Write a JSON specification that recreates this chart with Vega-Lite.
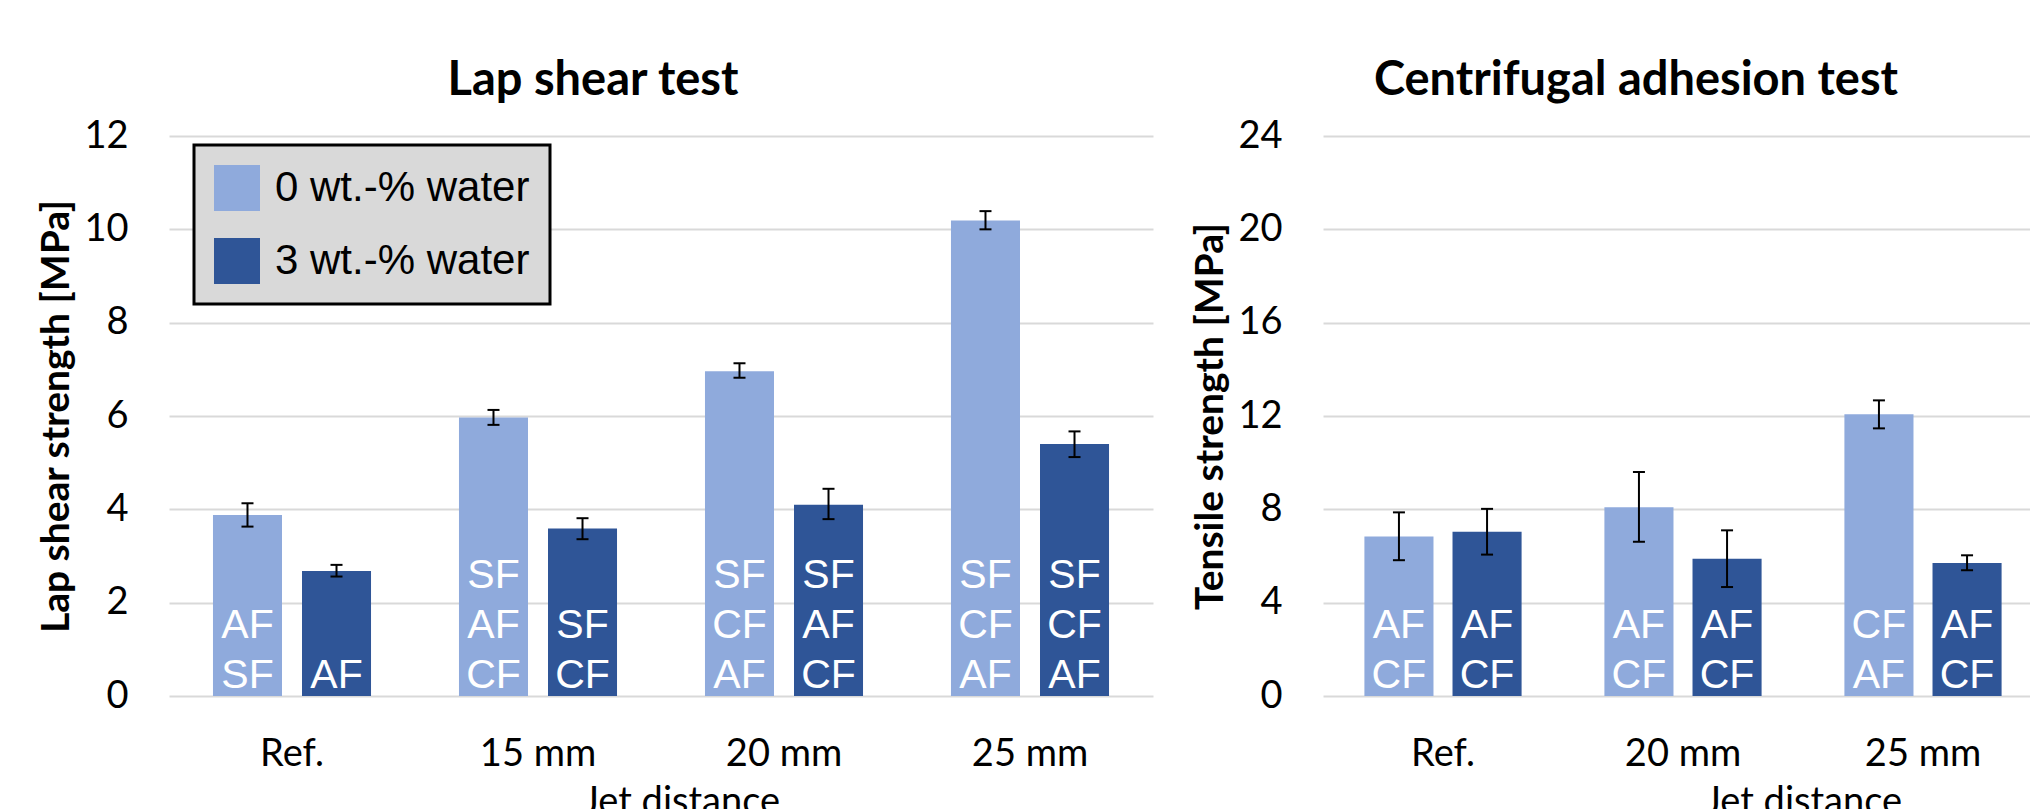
{
  "$schema": "https://vega.github.io/schema/vega-lite/v6.json",
  "background": "white",
  "padding": {"left": 37, "top": 57, "right": -251, "bottom": -12},
  "spacing": 38,
  "datasets": {
    "lap": [
      {"dist": "Ref.", "water": "0 wt.-% water", "value": 3.88, "lo": 3.63, "hi": 4.13, "b1": "SF", "b2": "AF", "b3": ""},
      {"dist": "Ref.", "water": "3 wt.-% water", "value": 2.68, "lo": 2.56, "hi": 2.81, "b1": "AF", "b2": "", "b3": ""},
      {"dist": "15 mm", "water": "0 wt.-% water", "value": 5.97, "lo": 5.81, "hi": 6.13, "b1": "CF", "b2": "AF", "b3": "SF"},
      {"dist": "15 mm", "water": "3 wt.-% water", "value": 3.59, "lo": 3.36, "hi": 3.81, "b1": "CF", "b2": "SF", "b3": ""},
      {"dist": "20 mm", "water": "0 wt.-% water", "value": 6.96, "lo": 6.82, "hi": 7.13, "b1": "AF", "b2": "CF", "b3": "SF"},
      {"dist": "20 mm", "water": "3 wt.-% water", "value": 4.1, "lo": 3.79, "hi": 4.44, "b1": "CF", "b2": "AF", "b3": "SF"},
      {"dist": "25 mm", "water": "0 wt.-% water", "value": 10.19, "lo": 10.0, "hi": 10.39, "b1": "AF", "b2": "CF", "b3": "SF"},
      {"dist": "25 mm", "water": "3 wt.-% water", "value": 5.4, "lo": 5.12, "hi": 5.67, "b1": "AF", "b2": "CF", "b3": "SF"}
    ],
    "cent": [
      {"dist": "Ref.", "water": "0 wt.-% water", "value": 6.84, "lo": 5.82, "hi": 7.87, "b1": "CF", "b2": "AF", "b3": ""},
      {"dist": "Ref.", "water": "3 wt.-% water", "value": 7.04, "lo": 6.06, "hi": 8.02, "b1": "CF", "b2": "AF", "b3": ""},
      {"dist": "20 mm", "water": "0 wt.-% water", "value": 8.09, "lo": 6.61, "hi": 9.6, "b1": "CF", "b2": "AF", "b3": ""},
      {"dist": "20 mm", "water": "3 wt.-% water", "value": 5.88, "lo": 4.67, "hi": 7.1, "b1": "CF", "b2": "AF", "b3": ""},
      {"dist": "25 mm", "water": "0 wt.-% water", "value": 12.07, "lo": 11.47, "hi": 12.67, "b1": "AF", "b2": "CF", "b3": ""},
      {"dist": "25 mm", "water": "3 wt.-% water", "value": 5.7, "lo": 5.39, "hi": 6.03, "b1": "CF", "b2": "AF", "b3": ""}
    ]
  },
  "hconcat": [
    {
      "width": 984,
      "height": 560,
      "title": {"text": "Lap shear test", "anchor": "middle", "frame": "group", "dx": -68, "offset": -25, "baseline": "alphabetic"},
      "data": {"name": "lap"},
      "encoding": {
        "x": {"field": "dist", "type": "nominal", "sort": ["Ref.", "15 mm", "20 mm", "25 mm"], "scale": {"paddingInner": 0, "paddingOuter": 0}, "title": "Jet distance", "axis": {"titleX": 512}},
        "xOffset": {"field": "water", "type": "nominal", "sort": ["0 wt.-% water", "3 wt.-% water"], "scale": {"paddingInner": 0.2247, "paddingOuter": 0.494}}
      },
      "layer": [
        {
          "mark": {"type": "bar"},
          "encoding": {
            "y": {"field": "value", "type": "quantitative", "title": "Lap shear strength [MPa]", "scale": {"domain": [0, 12], "nice": false}, "axis": {"values": [0, 2, 4, 6, 8, 10, 12]}},
            "color": {
              "field": "water", "type": "nominal", "sort": ["0 wt.-% water", "3 wt.-% water"],
              "scale": {"range": ["#8FAADC", "#2F5597"]},
              "legend": {"title": null, "orient": "none", "legendX": 25, "legendY": 9, "direction": "vertical"}
            }
          }
        },
        {
          "mark": {"type": "text", "color": "white", "font": "Liberation Sans", "fontSize": 41, "baseline": "alphabetic", "align": "center", "dy": -8},
          "encoding": {"y": {"datum": 0, "type": "quantitative", "title": "Lap shear strength [MPa]"}, "text": {"field": "b1", "type": "nominal"}}
        },
        {
          "mark": {"type": "text", "color": "white", "font": "Liberation Sans", "fontSize": 41, "baseline": "alphabetic", "align": "center", "dy": -58},
          "encoding": {"y": {"datum": 0, "type": "quantitative", "title": "Lap shear strength [MPa]"}, "text": {"field": "b2", "type": "nominal"}}
        },
        {
          "mark": {"type": "text", "color": "white", "font": "Liberation Sans", "fontSize": 41, "baseline": "alphabetic", "align": "center", "dy": -108},
          "encoding": {"y": {"datum": 0, "type": "quantitative", "title": "Lap shear strength [MPa]"}, "text": {"field": "b3", "type": "nominal"}}
        },
        {
          "mark": {"type": "rule", "color": "black", "strokeWidth": 2},
          "encoding": {"y": {"field": "lo", "type": "quantitative", "title": "Lap shear strength [MPa]"}, "y2": {"field": "hi"}}
        },
        {
          "mark": {"type": "tick", "color": "black", "thickness": 2, "size": 12, "opacity": 1},
          "encoding": {"y": {"field": "lo", "type": "quantitative", "title": "Lap shear strength [MPa]"}}
        },
        {
          "mark": {"type": "tick", "color": "black", "thickness": 2, "size": 12, "opacity": 1},
          "encoding": {"y": {"field": "hi", "type": "quantitative", "title": "Lap shear strength [MPa]"}}
        }
      ]
    },
    {
      "width": 960,
      "height": 560,
      "title": {"text": "Centrifugal adhesion test", "anchor": "middle", "frame": "group", "dx": -167, "offset": -25, "baseline": "alphabetic"},
      "data": {"name": "cent"},
      "encoding": {
        "x": {"field": "dist", "type": "nominal", "sort": ["Ref.", "20 mm", "25 mm"], "scale": {"paddingInner": 0, "paddingOuter": 0.5, "align": 0}, "title": "Jet distance"},
        "xOffset": {"field": "water", "type": "nominal", "sort": ["0 wt.-% water", "3 wt.-% water"], "scale": {"paddingInner": 0.216, "paddingOuter": 0.47}}
      },
      "layer": [
        {
          "mark": {"type": "bar"},
          "encoding": {
            "y": {"field": "value", "type": "quantitative", "title": "Tensile strength [MPa]", "scale": {"domain": [0, 24], "nice": false}, "axis": {"values": [0, 4, 8, 12, 16, 20, 24]}},
            "color": {
              "field": "water", "type": "nominal", "sort": ["0 wt.-% water", "3 wt.-% water"],
              "scale": {"range": ["#8FAADC", "#2F5597"]},
              "legend": null
            }
          }
        },
        {
          "mark": {"type": "text", "color": "white", "font": "Liberation Sans", "fontSize": 41, "baseline": "alphabetic", "align": "center", "dy": -8},
          "encoding": {"y": {"datum": 0, "type": "quantitative", "title": "Tensile strength [MPa]"}, "text": {"field": "b1", "type": "nominal"}}
        },
        {
          "mark": {"type": "text", "color": "white", "font": "Liberation Sans", "fontSize": 41, "baseline": "alphabetic", "align": "center", "dy": -58},
          "encoding": {"y": {"datum": 0, "type": "quantitative", "title": "Tensile strength [MPa]"}, "text": {"field": "b2", "type": "nominal"}}
        },
        {
          "mark": {"type": "rule", "color": "black", "strokeWidth": 2},
          "encoding": {"y": {"field": "lo", "type": "quantitative", "title": "Tensile strength [MPa]"}, "y2": {"field": "hi"}}
        },
        {
          "mark": {"type": "tick", "color": "black", "thickness": 2, "size": 12, "opacity": 1},
          "encoding": {"y": {"field": "lo", "type": "quantitative", "title": "Tensile strength [MPa]"}}
        },
        {
          "mark": {"type": "tick", "color": "black", "thickness": 2, "size": 12, "opacity": 1},
          "encoding": {"y": {"field": "hi", "type": "quantitative", "title": "Tensile strength [MPa]"}}
        }
      ]
    }
  ],
  "resolve": {"scale": {"color": "independent", "xOffset": "independent"}},
  "config": {
    "view": {"stroke": null},
    "axis": {
      "domain": false, "ticks": false,
      "labelFont": "Lato", "labelFontSize": 38, "labelColor": "#000000", "labelPadding": 41,
      "titleFont": "Lato", "titleFontSize": 39, "titleFontWeight": "bold", "titleColor": "#000000",
      "gridColor": "#d9d9d9", "gridWidth": 2
    },
    "axisX": {"grid": false, "labelAngle": 0, "titleFontWeight": "normal", "titleFontSize": 38, "titlePadding": 10, "labelPadding": 39},
    "axisY": {"titlePadding": 7},
    "title": {"font": "Lato", "fontSize": 47, "fontWeight": "bold", "color": "#000000"},
    "legend": {
      "fillColor": "#d9d9d9", "strokeColor": "#000000", "strokeWidth": 3, "padding": 20,
      "symbolType": "square", "symbolSize": 2116, "symbolStrokeWidth": 0, "symbolOpacity": 1,
      "labelFont": "Liberation Sans", "labelFontSize": 42, "labelColor": "#000000", "labelOffset": 15,
      "labelLimit": 500, "rowPadding": 27
    }
  }
}
